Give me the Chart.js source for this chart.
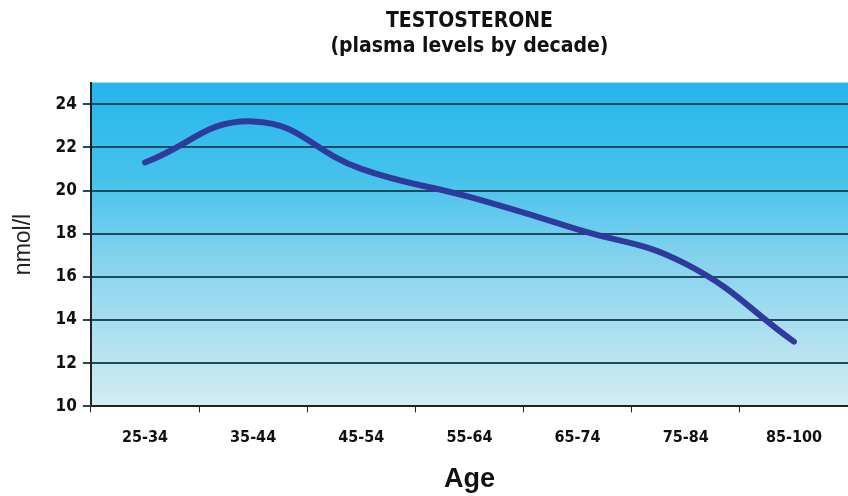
<!DOCTYPE html>
<html>
<head>
<meta charset="utf-8">
<script src="https://cdn.jsdelivr.net/npm/chart.js@4"></script>
<style>
  html, body { margin: 0; padding: 0; background: #fff; }
  #wrap { width: 848px; height: 496px; }
</style>
</head>
<body>
<div id="wrap"><canvas id="grafica"></canvas></div>
<script>
const ageGroups = ['25-34', '35-44', '45-54', '55-64', '65-74', '75-84', '85-100'];
const testosterone = [21.3, 23.2, 21.0, 19.7, 18.2, 16.6, 13.0];
const yTicks = [10, 12, 14, 16, 18, 20, 22, 24];

const fuente = "'DejaVu Sans Condensed', 'Liberation Sans', sans-serif";

// fondo degradado solo dentro del area de la grafica
const fondo = {
    id: 'fondo',
    beforeDraw(chart) {
        const { ctx, chartArea: a } = chart;
        const g = ctx.createLinearGradient(0, a.top, 0, a.bottom);
        g.addColorStop(0, '#24b6ec');
        g.addColorStop(0.3, '#46c2ec');
        g.addColorStop(0.55, '#86d3ee');
        g.addColorStop(1, '#d4ecf2');
        ctx.save();
        ctx.fillStyle = g;
        ctx.fillRect(a.left, a.top, a.right - a.left, a.bottom - a.top);
        ctx.restore();
    }
};

const ctx = document.getElementById('grafica').getContext('2d');
new Chart(ctx, {
    type: 'line',
    data: {
        labels: ageGroups,
        datasets: [{
            label: 'Testosterone',
            data: testosterone,
            borderColor: '#2f3b9c',
            borderWidth: 6,
            borderCapStyle: 'round',
            pointRadius: 0,
            tension: 0.45,
            fill: false
        }]
    },
    options: {
        responsive: true,
        maintainAspectRatio: false,
        animation: false,
        layout: { padding: { left: 10, right: 0, top: 0, bottom: 0 } },
        plugins: {
            legend: { display: false },
            tooltip: { enabled: false },
            title: {
                display: true,
                fullSize: false,
                text: ['TESTOSTERONE', '(plasma levels by decade)'],
                color: '#111',
                font: { family: fuente, size: 21, weight: 'bold', lineHeight: 1.18 },
                padding: { top: 9, bottom: 24 }
            }
        },
        scales: {
            x: {
                offset: true,
                grid: {
                    offset: true,
                    drawOnChartArea: false,
                    drawTicks: true,
                    tickLength: 6,
                    color: '#222'
                },
                border: { color: '#222', width: 2 },
                ticks: {
                    color: '#111',
                    padding: 16,
                    font: { family: fuente, size: 16, weight: 'bold' }
                },
                title: {
                    display: true,
                    text: 'Age',
                    color: '#111',
                    font: { family: "'Liberation Sans', Arial, sans-serif", size: 27, weight: 'bold' },
                    padding: { top: 0, bottom: 0 }
                }
            },
            y: {
                min: 10,
                max: 25,
                afterBuildTicks(axis) {
                    axis.ticks = yTicks.map(v => ({ value: v }));
                },
                grid: {
                    color: '#1e4a60',
                    lineWidth: 2,
                    tickLength: 8
                },
                border: { color: '#222', width: 2 },
                ticks: {
                    color: '#111',
                    padding: 6,
                    font: { family: fuente, size: 17, weight: 'bold' }
                },
                title: {
                    display: true,
                    text: 'nmol/l',
                    color: '#222',
                    font: { family: "'Liberation Sans', Arial, sans-serif", size: 23 },
                    padding: { top: 0, bottom: 12 }
                }
            }
        }
    },
    plugins: [fondo]
});
</script>
</body>
</html>
